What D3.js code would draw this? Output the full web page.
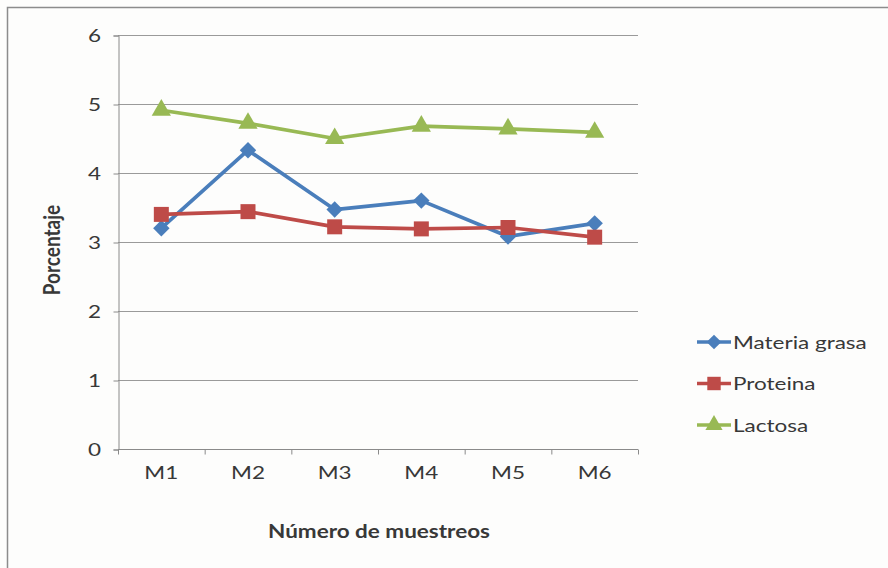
<!DOCTYPE html>
<html>
<head>
<meta charset="utf-8">
<script src="https://cdn.jsdelivr.net/npm/d3@7"></script>
<style>
  html, body { margin: 0; padding: 0; background: #fdfdfc; }
  svg { display: block; font-family: Lato, "Open Sans", sans-serif; }
</style>
</head>
<body>
<svg id="chart" width="888" height="568"></svg>
<script>
// Muestreos (eje X)
const categories = ["M1", "M2", "M3", "M4", "M5", "M6"];
// Porcentajes por componente
const materiaGrasa = [3.20, 4.33, 3.47, 3.60, 3.08, 3.27];
const proteina     = [3.40, 3.44, 3.22, 3.19, 3.21, 3.07];
const lactosa      = [4.91, 4.72, 4.50, 4.68, 4.64, 4.59];
const seriesNames  = ["Materia grasa", "Proteina", "Lactosa"];
const yTicks       = [0, 1, 2, 3, 4, 5, 6];

// Texto ensanchado horizontalmente
const STRETCH = 1.25;

const diamond = { draw(ctx, size) { const r = Math.sqrt(size) / 2 * Math.SQRT2; ctx.moveTo(0, -r); ctx.lineTo(r, 0); ctx.lineTo(0, r); ctx.lineTo(-r, 0); ctx.closePath(); } };

const seriesList = [
  { name: seriesNames[0], values: materiaGrasa, color: "#4a7ebb", symbol: diamond,          size: 135 },
  { name: seriesNames[1], values: proteina,     color: "#be4b48", symbol: d3.symbolSquare,  size: 225 },
  { name: seriesNames[2], values: lactosa,      color: "#98b954", symbol: d3.symbolTriangle, size: 160 }
];

const svg = d3.select("#chart");

// Marco del área del gráfico
svg.append("rect")
  .attr("x", 7.5).attr("y", 7.5)
  .attr("width", 900).attr("height", 600)
  .attr("fill", "#fdfdfc")
  .attr("stroke", "#8c8c8c").attr("stroke-width", 1.5);

const plot = { left: 118, right: 638, top: 35, bottom: 449 };

const x = d3.scaleBand().domain(categories).range([plot.left, plot.right]);
const y = d3.scaleLinear().domain([0, 6]).range([plot.bottom, plot.top]);

// Líneas de cuadrícula horizontales
svg.append("g")
  .selectAll("line")
  .data(yTicks.filter(t => t > 0))
  .join("line")
  .attr("x1", plot.left).attr("x2", plot.right)
  .attr("y1", d => y(d) + 0.5).attr("y2", d => y(d) + 0.5)
  .attr("stroke", "#9a9a9a").attr("stroke-width", 1);

// Eje Y
const yAxis = svg.append("g")
  .attr("transform", `translate(${plot.left + 0.5},0.5)`)
  .call(d3.axisLeft(y).tickValues(yTicks).tickSize(5).tickPadding(9).tickFormat(d3.format("d")));
yAxis.select(".domain").attr("stroke", "#8a8a8a");
yAxis.selectAll(".tick line").attr("stroke", "#8a8a8a");
yAxis.selectAll("text")
  .attr("font-size", 18).attr("fill", "#383838").attr("font-family", "Lato, sans-serif")
  .attr("transform", `scale(${STRETCH},1)`);

// Eje X
const xAxis = svg.append("g")
  .attr("transform", `translate(0,${plot.bottom + 0.5})`)
  .call(d3.axisBottom(x).tickSize(0).tickPadding(17));
xAxis.select(".domain").attr("stroke", "#8a8a8a").attr("d", `M${plot.left},0H${plot.right}`);
xAxis.selectAll("text")
  .attr("font-size", 18).attr("fill", "#383838").attr("font-family", "Lato, sans-serif")
  .attr("transform", `scale(${STRETCH},1)`);
// Marcas de división entre categorías
xAxis.append("g")
  .selectAll("line")
  .data(categories.map(c => x(c)).concat([plot.right]))
  .join("line")
  .attr("x1", d => d + 0.5).attr("x2", d => d + 0.5)
  .attr("y1", 0).attr("y2", 5)
  .attr("stroke", "#8a8a8a");

// Títulos de ejes
svg.append("text")
  .attr("transform", `translate(60,${(plot.top + plot.bottom) / 2 + 8}) rotate(-90) scale(1,${STRETCH})`)
  .attr("text-anchor", "middle")
  .attr("font-size", 19).attr("font-weight", "bold").attr("fill", "#383838")
  .text("Porcentaje");

svg.append("g")
  .attr("transform", "translate(379,538)")
  .append("text")
  .attr("transform", `scale(${STRETCH},1)`)
  .attr("text-anchor", "middle")
  .attr("font-size", 18).attr("font-weight", "bold").attr("fill", "#383838")
  .text("Número de muestreos");

// Series
const cx = (d, i) => x(categories[i]) + x.bandwidth() / 2;
const line = d3.line().x(cx).y(d => y(d));

seriesList.forEach(s => {
  const g = svg.append("g");
  g.append("path")
    .attr("d", line(s.values))
    .attr("fill", "none")
    .attr("stroke", s.color)
    .attr("stroke-width", 3.7)
    .attr("stroke-linejoin", "round");
  g.selectAll("path.m")
    .data(s.values)
    .join("path")
    .attr("class", "m")
    .attr("transform", (d, i) => `translate(${cx(d, i)},${y(d)})`)
    .attr("d", d3.symbol().type(s.symbol).size(s.size))
    .attr("fill", s.color);
});

// Leyenda
const legend = svg.append("g").attr("transform", "translate(697,342)");
seriesList.forEach((s, i) => {
  const row = legend.append("g").attr("transform", `translate(0,${i * 41.5})`);
  row.append("line")
    .attr("x1", 0).attr("x2", 34)
    .attr("y1", 0).attr("y2", 0)
    .attr("stroke", s.color).attr("stroke-width", 3.7);
  row.append("path")
    .attr("transform", "translate(17,0)")
    .attr("d", d3.symbol().type(s.symbol).size(s.size * 0.8))
    .attr("fill", s.color);
  row.append("g")
    .attr("transform", "translate(36,6.5)")
    .append("text")
    .attr("transform", `scale(${STRETCH},1)`)
    .attr("font-size", 18).attr("fill", "#383838")
    .text(s.name);
});
</script>
</body>
</html>
